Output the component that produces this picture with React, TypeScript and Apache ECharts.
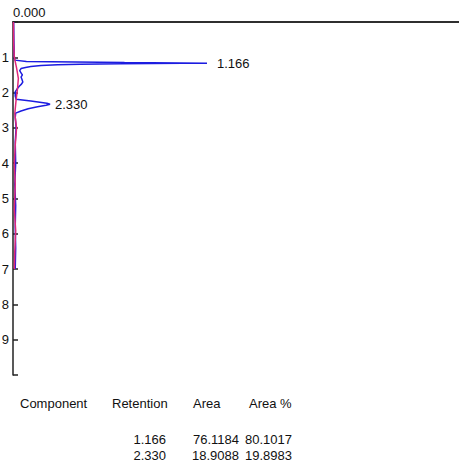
import React, { useEffect, useRef } from "react";
import * as echarts from "echarts";

// Chromatogram trace: retention time (min) vs detector intensity (relative)
const blueTime = [0, 0.5, 1.0, 1.08, 1.12, 1.15, 1.166, 1.17, 1.18, 1.195, 1.21, 1.23, 1.26, 1.29, 1.32, 1.38, 1.44, 1.5, 1.56, 1.62, 1.7, 1.76, 1.82, 1.9, 1.98, 2.1, 2.19, 2.24, 2.3, 2.33, 2.36, 2.4, 2.46, 2.52, 2.58, 2.7, 3.0, 3.4, 4.0, 4.6, 5.2, 5.8, 6.4, 7.0];
const blueIntensity = [0.15, 0.2, 0.3, 0.4, 3, 25, 43.5, 38, 24, 15, 10, 6.3, 4, 2.8, 1.8, 1.5, 1.8, 2.1, 1.8, 2.0, 2.2, 1.9, 1.4, 0.9, 0.5, 0.5, 0.7, 4, 7.6, 8.3, 7.4, 5.5, 3.4, 1.8, 0.6, 0.5, 0.7, 0.5, 0.6, 0.4, 0.6, 0.5, 0.6, 0.5];

// Baseline trace
const baseTime = [0, 0.6, 1.0, 1.3, 1.6, 1.9, 2.2, 2.6, 3.0, 3.5, 4.0, 4.6, 5.3, 5.9, 6.5, 7.0];
const baseIntensity = [0.1, 0.15, 0.3, 0.8, 1.2, 1.0, 0.7, 0.4, 0.8, 0.5, 0.3, 0.5, 0.3, 0.6, 0.4, 0.3];

// Peak table
const tableHeaders = ["Component", "Retention", "Area", "Area %"];
const tableRetention = ["1.166", "2.330"];
const tableArea = ["76.1184", "18.9088"];
const tableAreaPct = ["80.1017", "19.8983"];

const FONT = "'Liberation Sans', Arial, Helvetica, sans-serif";

export default function App() {
  const ref = useRef<HTMLDivElement>(null);
  useEffect(() => {
    document.body.style.margin = "0";
    if (!ref.current) return;
    const chart = echarts.init(ref.current, null, { renderer: "svg" });

    const peakTimes = tableRetention.map((s) => parseFloat(s));
    const peakDist = [10, 5];
    const blueData: any[] = blueTime.map((t, i) => {
      const pi = peakTimes.indexOf(t);
      if (pi >= 0) {
        return {
          value: [blueIntensity[i], t],
          label: {
            show: true,
            position: "right",
            distance: peakDist[pi],
            formatter: tableRetention[pi],
            color: "#111",
            fontSize: 13,
            fontFamily: FONT,
          },
        };
      }
      return [blueIntensity[i], t];
    });
    const baseData = baseTime.map((t, i) => [baseIntensity[i], t]);

    const axisLineStyle = { color: "#222", width: 1.5 };
    const textEls: any[] = [];
    const headerX = [20, 112, 193, 249];
    tableHeaders.forEach((h, i) => {
      textEls.push({
        type: "text",
        x: headerX[i],
        y: 403,
        style: { text: h, fontSize: 13, fontFamily: FONT, fill: "#111", verticalAlign: "middle" },
      });
    });
    const colRight = [166, 239, 292];
    const cols = [tableRetention, tableArea, tableAreaPct];
    cols.forEach((col, c) => {
      col.forEach((v, r) => {
        textEls.push({
          type: "text",
          x: colRight[c],
          y: 439 + r * 16,
          style: {
            text: v,
            fontSize: 13,
            fontFamily: FONT,
            fill: "#111",
            align: "right",
            verticalAlign: "middle",
          },
        });
      });
    });

    chart.setOption({
      animation: false,
      backgroundColor: "#fff",
      grid: { left: 13, top: 22, right: 0, bottom: 92, outerBoundsMode: "none", containLabel: false },
      xAxis: [
        {
          type: "value",
          min: 0,
          max: 100,
          position: "bottom",
          axisLine: { show: true, lineStyle: axisLineStyle },
          axisTick: { show: false },
          axisLabel: { show: false },
          splitLine: { show: false },
        },
        {
          type: "value",
          min: 0,
          max: 100,
          position: "top",
          axisLine: { show: true, onZero: false, lineStyle: axisLineStyle },
          axisTick: { show: false },
          axisLabel: { show: false },
          splitLine: { show: false },
        },
      ],
      yAxis: {
        type: "value",
        inverse: true,
        min: 0,
        max: 10,
        interval: 1,
        name: "0.000",
        nameLocation: "start",
        nameGap: 3,
        nameTextStyle: {
          align: "left",
          verticalAlign: "bottom",
          fontSize: 13,
          fontFamily: FONT,
          color: "#111",
        },
        axisLine: { show: true, onZero: false, lineStyle: axisLineStyle },
        axisTick: { show: true, inside: true, length: 5, lineStyle: { color: "#222", width: 1.5 } },
        axisLabel: {
          margin: 4,
          fontSize: 13,
          fontFamily: FONT,
          color: "#111",
          formatter: (v: number) => (v === 0 || v === 10 ? "" : String(v)),
        },
        splitLine: { show: false },
      },
      series: [
        {
          type: "line",
          xAxisIndex: 0,
          data: blueData,
          showSymbol: true,
          showAllSymbol: true,
          symbolSize: 0,
          lineStyle: { color: "#1c1ce0", width: 1.5 },
          itemStyle: { color: "#1c1ce0" },
          label: { show: false },
          z: 2,
        },
        {
          type: "line",
          xAxisIndex: 0,
          data: baseData,
          showSymbol: false,
          lineStyle: { color: "#e0287a", width: 1.5 },
          z: 3,
        },
      ],
      graphic: textEls,
    });
    return () => chart.dispose();
  }, []);
  return <div ref={ref} style={{ width: 459, height: 467 }} />;
}
